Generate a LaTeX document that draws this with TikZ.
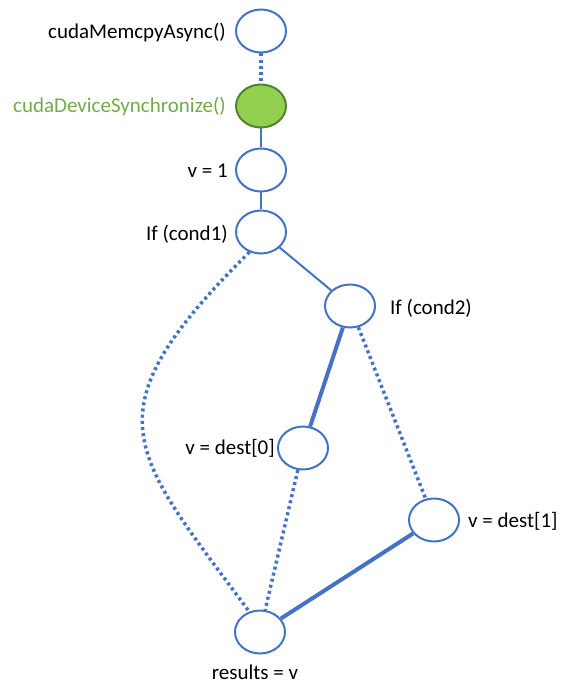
\documentclass[tikz,border=0pt]{standalone}
\usepackage{fontspec}
\setmainfont{Carlito}
\usetikzlibrary{shapes.geometric}
\definecolor{flowblue}{HTML}{4472C4}
\definecolor{syncfill}{HTML}{92D050}
\definecolor{syncline}{HTML}{548235}
\definecolor{synctext}{HTML}{70AD47}
\begin{document}
\begin{tikzpicture}[x=1pt,y=-1pt,
  stmt/.style={ellipse,draw=flowblue,line width=2pt,fill=white,
    minimum width=50pt,minimum height=43pt,inner sep=0pt},
  syncstmt/.style={stmt,draw=syncline,fill=syncfill},
  caption/.style={inner sep=0pt,font=\fontsize{21}{25}\selectfont},
  thin link/.style={draw=flowblue,line width=2pt},
  thick link/.style={draw=flowblue,line width=4pt},
  dot link/.style={draw=flowblue,line width=3.5pt,dash pattern=on 3pt off 3.2pt}]
\useasboundingbox (0,0) rectangle (562,684);

% statement nodes
\node[stmt]     (memcpy) at (261,31)  {};
\node[syncstmt] (sync)   at (261,106) {};
\node[stmt]     (vone)   at (261,170) {};
\node[stmt]     (condA)  at (261,232) {};
\node[stmt]     (condB)  at (350,306) {};
\node[stmt]     (dzero)  at (303,448) {};
\node[stmt]     (done)   at (434,520) {};
\node[stmt]     (result) at (260,632) {};

% captions
\node[caption,anchor=east] (tmemcpy) at (226,33)  {cudaMemcpyAsync()};
\node[caption,anchor=east,text=synctext] (tsync) at (226,107) {cudaDeviceSynchronize()};
\node[caption,anchor=east] (tvone)   at (228,171) {v = 1};
\node[caption,anchor=east] (tcondA)  at (228,234) {If (cond1)};
\node[caption,anchor=west] (tcondB)  at (390,308) {If (cond2)};
\node[caption,anchor=east] (tdzero)  at (275,448) {v = dest[0]};
\node[caption,anchor=west] (tdone)   at (468,521) {v = dest[1]};
\node[caption] (tresult) at (255,672) {results = v};

% control-flow links
\path[dot link]   (memcpy) -- (sync);
\path[thin link]  (sync) -- (vone);
\path[thin link]  (vone) -- (condA);
\path[thin link]  (condA) -- (condB);
\path[thick link] (condB) -- (dzero);
\path[dot link]   (condB) -- (done);
\path[dot link]   (dzero) -- (result);
\path[thick link] (done) -- (result);
\path[dot link]   (condA.240) .. controls (85,415) and (130,450) .. (result.118);
\end{tikzpicture}
\end{document}
